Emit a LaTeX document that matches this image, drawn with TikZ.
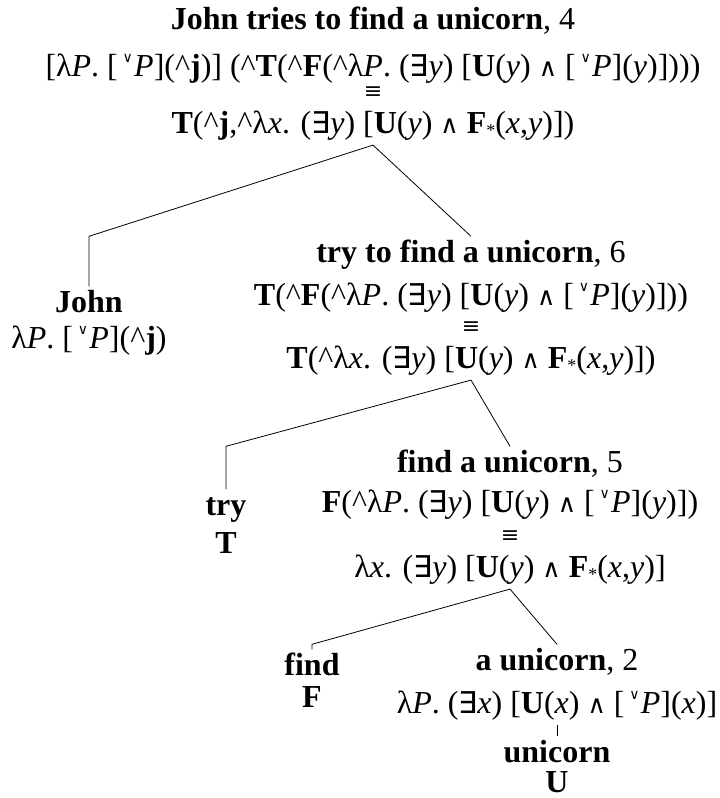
\documentclass[tikz,border=0pt]{standalone}
\usepackage{fontspec}
\setmainfont{Liberation Serif}
\newfontfamily\opsfont{DejaVu Serif}
\newfontfamily\exfont{DejaVu Sans}

\newcommand*{\Up}{\textasciicircum}
\newcommand*{\Dn}{\hspace{0.15em}\raisebox{0.42em}{\fontsize{14}{14}\selectfont\opsfont ∨}\hspace{0.04em}}
\newcommand*{\Ex}{{\fontsize{30}{30}\selectfont\exfont ∃}}
\newcommand*{\Conj}{{\fontsize{25}{25}\selectfont\opsfont ∧}}
\newcommand*{\Eq}{{\fontsize{22}{22}\selectfont\opsfont ≡}}
\newcommand*{\St}{\raisebox{-3pt}{\fontsize{18}{18}\selectfont *}}
\newcommand*{\cons}[1]{\begin{tabular}[t]{@{}c@{}}#1\end{tabular}}

\begin{document}
\begin{tikzpicture}
[
	x=1pt, y=-1pt,
	line width=0.8pt,
	constit/.style={anchor=base, inner sep=1.5pt, font=\fontsize{32}{34}\selectfont}
]

	\useasboundingbox (0,0) rectangle (720,798);

	% constituents
	\node[constit] (sent) at (373,29) {\cons{%
		\textbf{John tries to find a unicorn}, 4 \\[13pt]
		[λ\textit{P}. [\Dn\textit{P}](\Up\textbf{j})] (\Up\textbf{T}(\Up\textbf{F}(\Up λ\textit{P}. (\Ex\textit{y}) [\textbf{U}(\textit{y}) \Conj{} [\Dn\textit{P}](\textit{y})]))) \\[-12pt]
		\Eq \\[1pt]
		\textbf{T}(\Up\textbf{j},\Up λ\textit{x}. (\Ex\textit{y}) [\textbf{U}(\textit{y}) \Conj{} \textbf{F}\St(\textit{x},\textit{y})])}};
	\node[constit] (john) at (89,312) {\cons{%
		\textbf{John} \\[2pt]
		λ\textit{P}. [\Dn\textit{P}](\Up\textbf{j})}};
	\node[constit] (tryvp) at (471,262) {\cons{%
		\textbf{try to find a unicorn}, 6 \\[9pt]
		\textbf{T}(\Up\textbf{F}(\Up λ\textit{P}. (\Ex\textit{y}) [\textbf{U}(\textit{y}) \Conj{} [\Dn\textit{P}](\textit{y})])) \\[-6pt]
		\Eq \\[1pt]
		\textbf{T}(\Up λ\textit{x}. (\Ex\textit{y}) [\textbf{U}(\textit{y}) \Conj{} \textbf{F}\St(\textit{x},\textit{y})])}};
	\node[constit] (try) at (226,515) {\cons{%
		\textbf{try} \\[4pt]
		\textbf{T}}};
	\node[constit] (findvp) at (510,472) {\cons{%
		\textbf{find a unicorn}, 5 \\[6pt]
		\textbf{F}(\Up λ\textit{P}. (\Ex\textit{y}) [\textbf{U}(\textit{y}) \Conj{} [\Dn\textit{P}](\textit{y})]) \\[-4pt]
		\Eq \\[1pt]
		λ\textit{x}. (\Ex\textit{y}) [\textbf{U}(\textit{y}) \Conj{} \textbf{F}\St(\textit{x},\textit{y})]}};
	\node[constit] (find) at (312,675) {\cons{%
		\textbf{find} \\[-2pt]
		\textbf{F}}};
	\node[constit] (term) at (557,670) {\cons{%
		\textbf{a unicorn}, 2 \\[9pt]
		λ\textit{P}. (\Ex\textit{x}) [\textbf{U}(\textit{x}) \Conj{} [\Dn\textit{P}](\textit{x})]}};
	\node[constit] (noun) at (557,762) {\cons{%
		\textbf{unicorn} \\[-4pt]
		\textbf{U}}};

	% branches
	\draw (sent.south) -- (tryvp.north);
	\draw (sent.south) -- (tryvp.north -| john.north) -- (john.north);
	%
	\draw (tryvp.south) -- (findvp.north);
	\draw (tryvp.south) -- (findvp.north -| try.north) -- (try.north);
	%
	\draw (findvp.south) -- (term.north);
	\draw (findvp.south) -- (term.north -| find.north) -- (find.north);
	%
	\draw (term.south) -- (noun.north);

\end{tikzpicture}
\end{document}
